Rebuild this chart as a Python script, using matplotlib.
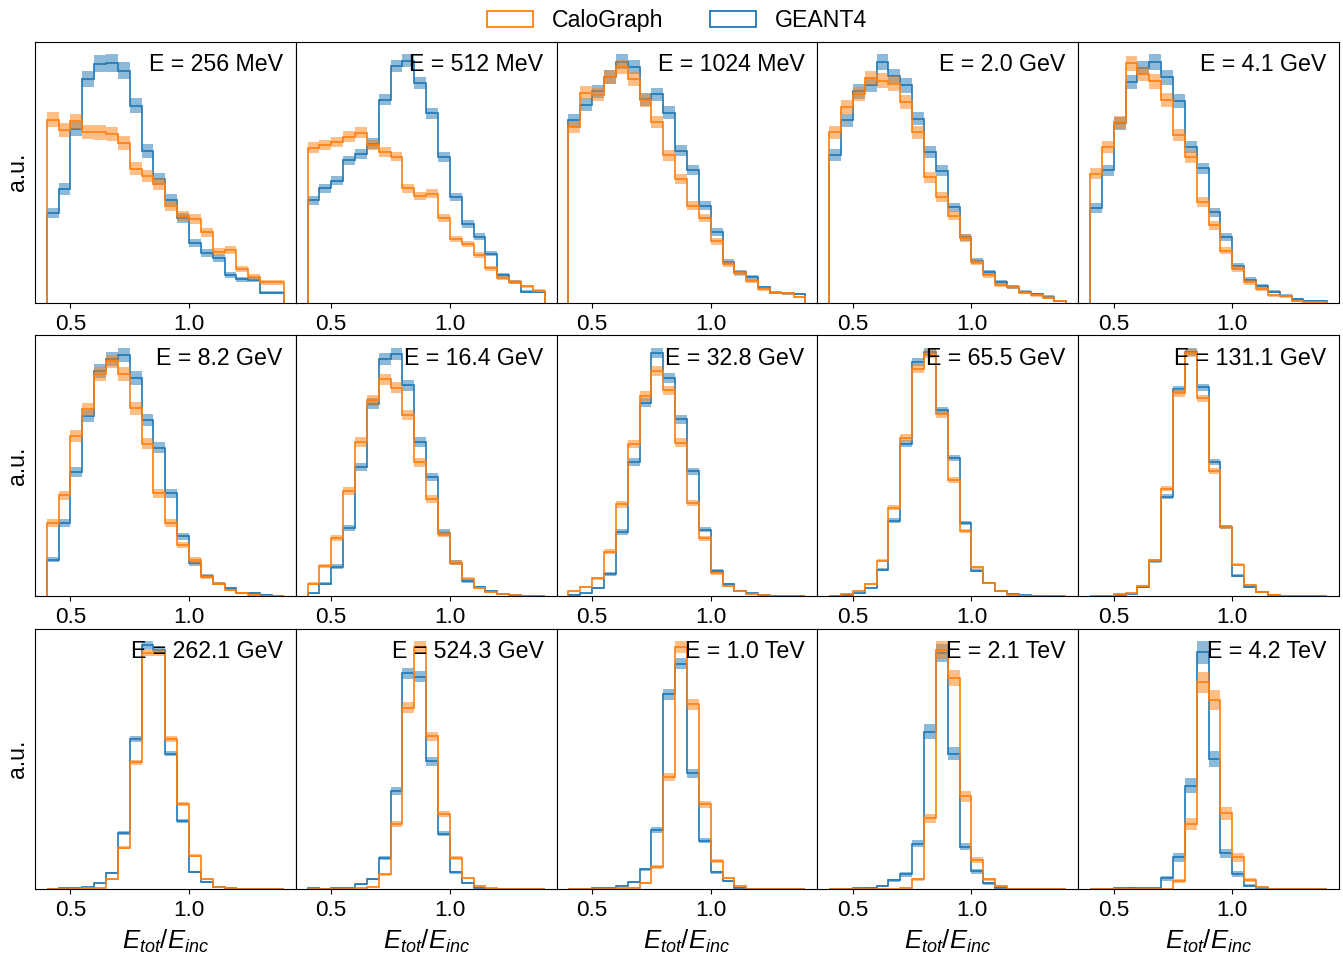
import numpy as np
import matplotlib
matplotlib.use("Agg")
import matplotlib.pyplot as plt
from matplotlib.patches import Patch

plt.rcParams['font.family'] = ['Liberation Sans', 'DejaVu Sans']
plt.rcParams['mathtext.fontset'] = 'custom'
plt.rcParams['mathtext.it'] = 'Liberation Sans:italic'
plt.rcParams['mathtext.rm'] = 'Liberation Sans'

# bin edges of E_tot/E_inc
bin_edges = [0.40, 0.45, 0.50, 0.55, 0.60, 0.65, 0.70, 0.75, 0.80, 0.85, 0.90,
             0.95, 1.00, 1.05, 1.10, 1.15, 1.20, 1.25, 1.30, 1.35, 1.40]

energy_labels = ["E = 256 MeV", "E = 512 MeV", "E = 1024 MeV", "E = 2.0 GeV", "E = 4.1 GeV",
                 "E = 8.2 GeV", "E = 16.4 GeV", "E = 32.8 GeV", "E = 65.5 GeV", "E = 131.1 GeV",
                 "E = 262.1 GeV", "E = 524.3 GeV", "E = 1.0 TeV", "E = 2.1 TeV", "E = 4.2 TeV"]

# histogram heights (a.u.)
geant4_256MeV = [34.2, 43.2, 66.2, 85.3, 91.1, 91.4, 88.5, 75.1, 57.9, 47.0, 39.3, 32.3, 22.7, 18.9, 17.0, 10.6, 8.9, 8.7, 3.8, 3.8]
calo_256MeV = [69.7, 65.9, 69.1, 65.1, 64.9, 64.2, 61.0, 51.1, 48.3, 45.1, 36.8, 32.9, 31.9, 26.8, 19.2, 19.9, 12.8, 9.7, 7.7, 7.7]
geant4_512MeV = [38.6, 43.2, 46.0, 53.7, 56.0, 60.1, 76.7, 89.5, 91.4, 83.1, 71.6, 55.0, 39.9, 29.7, 24.9, 18.5, 10.5, 7.7, 4.1, 4.1]
calo_512MeV = [58.6, 59.5, 60.7, 62.7, 64.2, 59.5, 56.9, 55.2, 43.2, 40.3, 41.2, 32.0, 24.0, 22.0, 17.9, 13.0, 9.2, 7.7, 6.1, 4.5]
geant4_1024MeV = [69.3, 75.2, 80.3, 85.7, 91.7, 89.5, 77.4, 79.3, 72.3, 57.8, 50.5, 36.8, 26.9, 15.6, 11.5, 9.6, 5.8, 3.8, 3.5, 3.2]
calo_1024MeV = [66.8, 79.9, 79.0, 85.7, 89.5, 85.0, 77.0, 68.8, 56.0, 47.1, 36.8, 32.2, 23.3, 14.7, 11.1, 8.3, 5.1, 3.8, 3.5, 2.2]
geant4_2GeV = [56.5, 69.7, 80.8, 83.4, 92.1, 86.7, 83.1, 70.3, 57.8, 50.5, 36.4, 24.9, 16.0, 11.5, 7.9, 6.1, 4.1, 3.2, 2.3, 0.6]
calo_2GeV = [65.2, 74.8, 79.9, 85.9, 85.0, 83.8, 76.7, 65.2, 48.0, 40.3, 33.2, 24.6, 15.6, 10.5, 6.6, 5.8, 3.8, 2.8, 1.9, 0.6]
geant4_4GeV = [36.1, 50.5, 68.4, 84.1, 89.5, 91.8, 85.9, 77.0, 59.5, 51.2, 34.5, 24.9, 13.8, 8.7, 6.4, 4.1, 2.6, 1.3, 0.6, 0.6]
calo_4GeV = [49.2, 59.5, 68.8, 91.4, 87.2, 84.4, 77.4, 63.9, 55.6, 38.4, 29.4, 19.8, 12.8, 7.7, 5.1, 2.8, 2.3, 0.6, 0.3, 0.3]
geant4_8GeV = [14.0, 28.1, 47.6, 69.3, 86.8, 91.4, 93.0, 84.0, 67.7, 57.2, 39.6, 23.0, 12.5, 7.7, 4.6, 2.9, 1.0, 1.0, 0.4, 0.1]
calo_8GeV = [28.1, 38.7, 61.7, 71.9, 85.6, 90.4, 85.6, 72.3, 58.7, 39.6, 28.1, 19.5, 13.8, 7.4, 4.6, 2.3, 1.0, 0.4, 0.1, 0.1]
geant4_16GeV = [1.0, 4.6, 11.0, 25.5, 48.5, 72.3, 89.1, 91.1, 79.2, 57.9, 44.7, 23.8, 12.5, 5.5, 3.3, 1.7, 0.8, 0.3, 0.1, 0.0]
calo_16GeV = [4.6, 11.2, 21.7, 39.6, 57.9, 73.6, 81.5, 78.3, 68.1, 50.2, 36.5, 23.4, 12.5, 6.4, 2.9, 1.3, 0.6, 0.3, 0.0, 0.0]
geant4_33GeV = [0.4, 1.0, 2.9, 8.4, 24.6, 51.5, 74.5, 93.6, 84.0, 68.1, 48.0, 25.5, 9.7, 4.6, 2.0, 1.0, 0.4, 0.1, 0.0, 0.0]
calo_33GeV = [1.7, 3.3, 6.8, 17.0, 35.2, 58.5, 77.0, 86.8, 79.2, 59.1, 35.8, 22.1, 8.7, 3.6, 1.7, 0.6, 0.3, 0.1, 0.0, 0.0]
geant4_66GeV = [0.1, 0.4, 1.0, 2.9, 10.0, 28.9, 58.7, 90.2, 94.0, 71.5, 53.1, 28.1, 9.7, 4.9, 1.7, 0.6, 0.3, 0.1, 0.0, 0.0]
calo_66GeV = [0.1, 0.8, 1.7, 4.6, 13.5, 34.0, 61.0, 87.6, 93.2, 70.0, 44.7, 25.0, 11.0, 5.1, 1.9, 0.4, 0.1, 0.0, 0.0, 0.0]
geant4_131GeV = [0.0, 0.1, 0.4, 0.8, 3.3, 13.2, 37.8, 78.9, 93.2, 79.6, 51.1, 26.3, 7.7, 3.3, 1.3, 0.4, 0.1, 0.0, 0.0, 0.0]
calo_131GeV = [0.0, 0.1, 0.6, 1.0, 3.8, 13.5, 40.9, 77.4, 92.7, 75.4, 47.6, 26.3, 11.9, 4.2, 1.3, 0.4, 0.1, 0.0, 0.0, 0.0]
geant4_262GeV = [0.0, 0.3, 0.4, 0.8, 2.3, 6.1, 21.9, 58.4, 94.9, 92.7, 52.6, 26.6, 6.5, 2.7, 0.8, 0.3, 0.1, 0.0, 0.0, 0.0]
calo_262GeV = [0.0, 0.0, 0.1, 0.3, 0.4, 4.0, 16.1, 49.2, 91.9, 91.9, 58.4, 33.0, 12.9, 4.0, 0.8, 0.3, 0.1, 0.0, 0.0, 0.0]
geant4_524GeV = [0.3, 0.0, 0.3, 0.4, 1.9, 3.8, 11.8, 37.6, 82.8, 81.5, 49.0, 21.3, 6.4, 2.2, 0.6, 0.0, 0.0, 0.0, 0.0, 0.0]
calo_524GeV = [0.0, 0.0, 0.0, 0.0, 0.4, 0.9, 5.7, 24.8, 69.7, 93.0, 58.6, 28.9, 11.8, 4.2, 1.3, 0.3, 0.0, 0.0, 0.0, 0.0]
geant4_1TeV = [0.0, 0.0, 0.3, 0.4, 1.3, 2.9, 7.6, 22.9, 75.2, 87.0, 44.6, 18.7, 6.4, 3.2, 0.6, 0.0, 0.0, 0.0, 0.0, 0.0]
calo_1TeV = [0.0, 0.0, 0.0, 0.0, 0.3, 0.6, 2.5, 8.5, 43.3, 93.4, 71.3, 32.7, 10.8, 4.2, 1.3, 0.0, 0.0, 0.0, 0.0, 0.0]
geant4_2TeV = [0.0, 0.0, 0.3, 0.4, 1.3, 3.4, 5.7, 17.8, 61.5, 92.1, 52.9, 16.6, 7.0, 2.2, 0.6, 0.0, 0.0, 0.0, 0.0, 0.0]
calo_2TeV = [0.0, 0.0, 0.0, 0.0, 0.0, 0.0, 0.6, 3.8, 27.6, 93.4, 82.4, 36.3, 11.5, 3.8, 1.3, 0.0, 0.0, 0.0, 0.0, 0.0]
geant4_4TeV = [0.0, 0.0, 0.3, 0.6, 0.3, 0.3, 4.2, 12.1, 39.5, 90.4, 49.7, 13.6, 5.7, 1.3, 0.6, 0.0, 0.0, 0.0, 0.0, 0.0]
calo_4TeV = [0.0, 0.0, 0.0, 0.0, 0.0, 0.0, 0.0, 3.2, 24.8, 79.0, 72.2, 28.9, 12.1, 3.4, 0.9, 0.0, 0.0, 0.0, 0.0, 0.0]

# statistical uncertainty scale per panel (band half-width = scale * sqrt(height))
band_scale = [0.34, 0.25, 0.28, 0.30, 0.30,
              0.28, 0.24, 0.21, 0.17, 0.16,
              0.15, 0.23, 0.24, 0.36, 0.46]

geant4_all = [geant4_256MeV, geant4_512MeV, geant4_1024MeV, geant4_2GeV, geant4_4GeV,
              geant4_8GeV, geant4_16GeV, geant4_33GeV, geant4_66GeV, geant4_131GeV,
              geant4_262GeV, geant4_524GeV, geant4_1TeV, geant4_2TeV, geant4_4TeV]
calo_all = [calo_256MeV, calo_512MeV, calo_1024MeV, calo_2GeV, calo_4GeV,
            calo_8GeV, calo_16GeV, calo_33GeV, calo_66GeV, calo_131GeV,
            calo_262GeV, calo_524GeV, calo_1TeV, calo_2TeV, calo_4TeV]

C_CALO = '#ff7f0e'
C_G4 = '#1f77b4'
FS = 16.7

fig, axes = plt.subplots(3, 5, figsize=(13.43, 9.56), dpi=100)
fig.subplots_adjust(left=0.026, right=0.997, top=0.956, bottom=0.070,
                    wspace=0.0, hspace=0.126)

edges = np.array(bin_edges)
for i, ax in enumerate(axes.flat):
    for vals, col in ((geant4_all[i], C_G4), (calo_all[i], C_CALO)):
        v = np.array(vals, dtype=float)
        err = band_scale[i] * np.sqrt(v)
        lo = np.clip(v - err, 0, None)
        hi = v + err
        ax.stairs(hi, edges, baseline=lo, fill=True, color=col, alpha=0.5, lw=0)
        ax.stairs(v, edges, baseline=0, color=col, lw=1.2)
    ax.set_xticks([0.5, 1.0])
    ax.set_yticks([])
    ax.tick_params(axis='x', labelsize=16.2, pad=4.5)
    ax.text(0.95, 0.957, energy_labels[i], transform=ax.transAxes,
            ha='right', va='top', fontsize=FS)
    if i % 5 == 0:
        ax.set_ylabel('a.u.', fontsize=FS)
    if i >= 10:
        ax.set_xlabel(r'$E_{tot}/E_{inc}$', fontsize=18.5, labelpad=5)

handles = [Patch(facecolor='none', edgecolor=C_CALO, lw=1.3, label='CaloGraph'),
           Patch(facecolor='none', edgecolor=C_G4, lw=1.3, label='GEANT4')]
fig.legend(handles=handles, loc='upper center', ncol=2, frameon=False,
           bbox_to_anchor=(0.504, 1.012), fontsize=FS)

fig.savefig('out.png', dpi=100)
